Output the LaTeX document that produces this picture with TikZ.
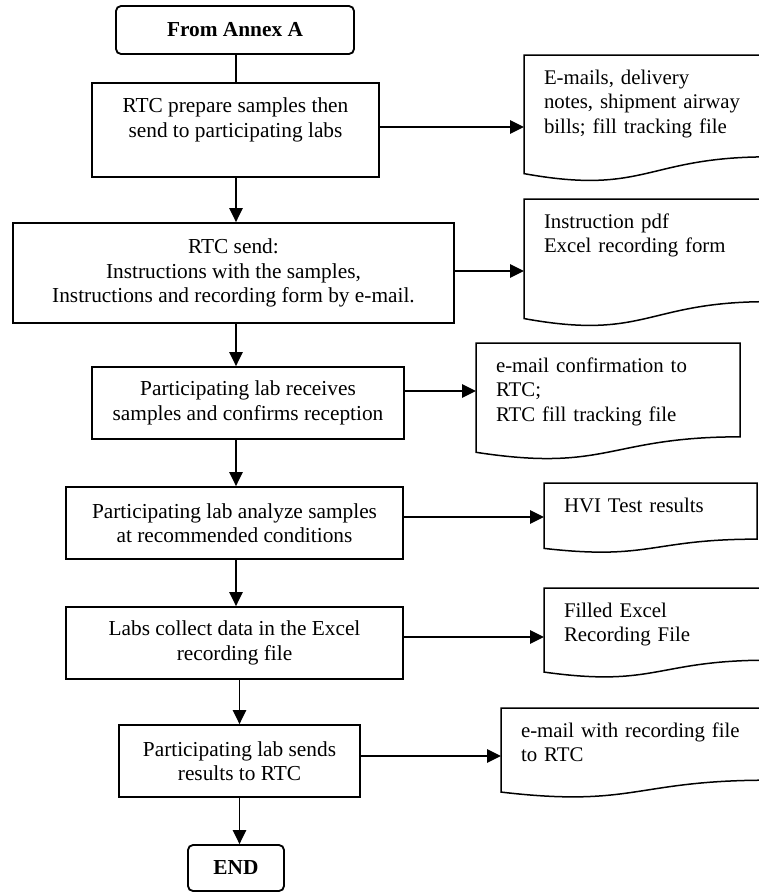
\documentclass[tikz,border=0pt]{standalone}
\usepackage{fontspec}
\setmainfont{Liberation Serif}
\usetikzlibrary{arrows.meta,calc}
\newcommand{\docoutline}[1]{%
\draw[docline] (#1.north west) -- (#1.north east)
  -- ($(#1.north east)!0.802!(#1.south east)$)
  .. controls ($(#1.north)!0.802!(#1.south)$) and ($(#1.north)!1.108!(#1.south)$)
  .. ($(#1.north west)!0.934!(#1.south west)$) -- cycle;}
\begin{document}
\begin{tikzpicture}[x=0.6pt,y=-0.6pt,
  proc/.style={draw, line width=1.1pt, align=center, font=\fontsize{12.8}{14.7}\selectfont},
  term/.style={proc, rounded corners=3pt, font=\fontsize{12.8}{14.7}\selectfont\bfseries},
  doc/.style={anchor=north west, align=left, inner xsep=12pt, inner ysep=0pt, outer sep=0pt, text height=17.4pt, font=\fontsize{12.5}{14.7}\selectfont},
  docline/.style={line width=0.9pt},
  arr/.style={line width=1pt, -{Triangle[length=8.4pt,width=8pt]}}]
\useasboundingbox (0,0) rectangle (759,892);
\coordinate (axis) at (236,0);
\node[term, minimum width=142.8pt, minimum height=28.8pt] (pid0) at (235,30){From Annex A};
\node[proc, minimum width=172.2pt, minimum height=56.4pt] (pid1) at (235.5,130){RTC prepare samples then\\send to participating labs\\\mbox{}};
\node[proc, minimum width=264.6pt, minimum height=60pt] (pid2) at (233.5,273){RTC send:\\Instructions with the samples,\\Instructions and recording form by e-mail.};
\node[proc, minimum width=187.2pt, minimum height=43.2pt] (pid3) at (248,403){Participating lab receives\\samples and confirms reception};
\node[proc, minimum width=202.2pt, minimum height=43.2pt] (pid4) at (234.5,523){Participating lab analyze samples\\at recommended conditions};
\node[proc, minimum width=202.2pt, minimum height=43.2pt] (pid5) at (234.5,643){Labs collect data in the Excel\\recording file};
\node[proc, minimum width=144.6pt, minimum height=43.2pt] (pid6) at (239.5,761){Participating lab sends\\results to RTC};
\node[term, minimum width=57.6pt, minimum height=27.6pt] (pid7) at (236,868){END};
\node[doc, text width=122.4pt, text depth=58.8pt] (did1) at (524,55){E-mails, delivery\\notes, shipment airway\\bills; fill tracking file};
\node[doc, text width=122.4pt, text depth=59.4pt] (did2) at (524,199){Instruction pdf\\Excel recording form};
\node[doc, text width=134.4pt, text depth=52.8pt] (did3) at (476,343){e-mail confirmation to\\RTC;\\RTC fill tracking file};
\node[doc, text width=103.8pt, text depth=24.6pt] (did4) at (544,483){HVI Test results};
\node[doc, text width=110.4pt, text depth=36.6pt] (did5) at (544,588){Filled Excel\\Recording File};
\node[doc, text width=136.2pt, text depth=36.6pt] (did6) at (501,708){e-mail with recording file\\to RTC};
\docoutline{did1}
\docoutline{did2}
\docoutline{did3}
\docoutline{did4}
\docoutline{did5}
\docoutline{did6}
\draw[line width=1pt](axis |- pid0.south) -- (axis |- pid1.north);
\draw[arr](axis |- pid1.south) -- (axis |- pid2.north);
\draw[arr](axis |- pid2.south) -- (axis |- pid3.north);
\draw[arr](axis |- pid3.south) -- (axis |- pid4.north);
\draw[arr](axis |- pid4.south) -- (axis |- pid5.north);
\draw[arr](pid6.north |- pid5.south) -- (pid6.north);
\draw[arr](pid6.south) -- (pid6.south |- pid7.north);
\draw[arr]([yshift=1.8pt]pid1.east) -- ([yshift=1.8pt]pid1.east -| did1.west);
\draw[arr]([yshift=1.2pt]pid2.east) -- ([yshift=1.2pt]pid2.east -| did2.west);
\draw[arr]([yshift=7.2pt]pid3.east) -- ([yshift=7.2pt]pid3.east -| did3.west);
\draw[arr]([yshift=3.6pt]pid4.east) -- ([yshift=3.6pt]pid4.east -| did4.west);
\draw[arr]([yshift=3.6pt]pid5.east) -- ([yshift=3.6pt]pid5.east -| did5.west);
\draw[arr]([yshift=3pt]pid6.east) -- ([yshift=3pt]pid6.east -| did6.west);
\end{tikzpicture}
\end{document}
